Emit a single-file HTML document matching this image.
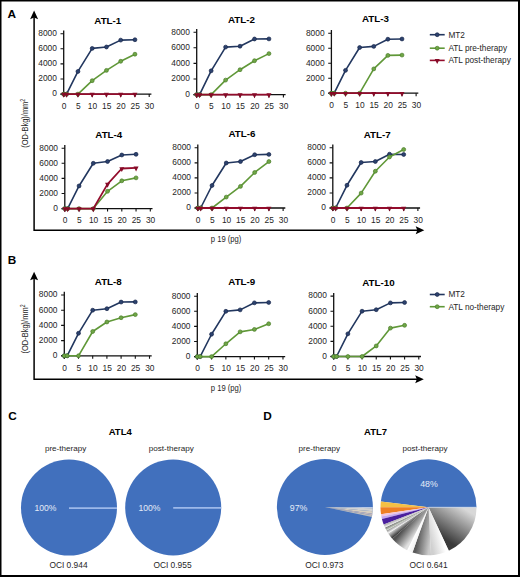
<!DOCTYPE html>
<html><head><meta charset="utf-8"><style>
html,body{margin:0;padding:0;background:#fff;}
svg{display:block;}
</style></head><body>
<svg width="520" height="577" viewBox="0 0 520 577" font-family='"Liberation Sans", sans-serif'>
<rect width="520" height="577" fill="#fff"/>
<text x="7.6" y="17.6" font-weight="bold" font-size="11.8" fill="#000">A</text>
<text x="7.8" y="264.3" font-weight="bold" font-size="11.8" fill="#000">B</text>
<text x="8.2" y="420.2" font-weight="bold" font-size="11.8" fill="#000">C</text>
<text x="263.3" y="420.2" font-weight="bold" font-size="11.8" fill="#000">D</text>
<path d="M34.1 14.6V230.3H420.3" stroke="#000" stroke-width="1.5" fill="none"/><path d="M34.1 10.6L38.1 19.2L34.1 17.6L30.1 19.2Z" fill="#000"/><path d="M424.3 230.3L415.7 226.3L417.3 230.3L415.7 234.3Z" fill="#000"/>
<path d="M34.1 275.7V379.3H419.8" stroke="#000" stroke-width="1.5" fill="none"/><path d="M34.1 271.7L38.1 280.3L34.1 278.7L30.1 280.3Z" fill="#000"/><path d="M423.8 379.3L415.2 375.3L416.8 379.3L415.2 383.3Z" fill="#000"/>
<text transform="translate(28.2 123.3) rotate(-90) scale(0.78 1)" text-anchor="middle" font-size="9.6" fill="#262626">(OD-Bkg)/mm<tspan font-size="6.5" dy="-3.6">2</tspan></text>
<text transform="translate(28.2 329.0) rotate(-90) scale(0.78 1)" text-anchor="middle" font-size="9.6" fill="#262626">(OD-Bkg)/mm<tspan font-size="6.5" dy="-3.6">2</tspan></text>
<text transform="translate(210.8 242.3) scale(0.86 1)" font-size="8.9" fill="#262626">p 19 (pg)</text>
<text transform="translate(210.8 391.0) scale(0.86 1)" font-size="8.9" fill="#262626">p 19 (pg)</text>
<g font-size="8.4" fill="#262626">
<text x="107.8" y="24.2" text-anchor="middle" font-weight="bold" font-size="9.8" fill="#000">ATL-1</text>
<path d="M63.7 30.5V97.1M60.5 94.1H151.4" stroke="#111" stroke-width="1.3" fill="none"/>
<path d="M60.5 94.1H63.7M60.5 79H63.7M60.5 63.9H63.7M60.5 48.8H63.7M60.5 33.7H63.7M63.7 94.1V97.1M77.95 94.1V97.1M92.2 94.1V97.1M106.45 94.1V97.1M120.7 94.1V97.1M134.95 94.1V97.1M149.2 94.1V97.1" stroke="#111" stroke-width="1.1" fill="none"/>
<text x="56.9" y="96.4" text-anchor="end">0</text>
<text x="56.9" y="81.3" text-anchor="end">2000</text>
<text x="56.9" y="66.2" text-anchor="end">4000</text>
<text x="56.9" y="51.1" text-anchor="end">6000</text>
<text x="56.9" y="36" text-anchor="end">8000</text>
<text x="64" y="108.8" text-anchor="middle">0</text>
<text x="78.25" y="108.8" text-anchor="middle">5</text>
<text x="92.5" y="108.8" text-anchor="middle">10</text>
<text x="106.75" y="108.8" text-anchor="middle">15</text>
<text x="121" y="108.8" text-anchor="middle">20</text>
<text x="135.25" y="108.8" text-anchor="middle">25</text>
<text x="149.5" y="108.8" text-anchor="middle">30</text>
<path d="M63.7 94.1L66.55 94.1L77.95 71.45L92.2 48.42L106.45 46.99L120.7 40.12L134.95 39.74" stroke="#22375f" stroke-width="1.6" fill="none" stroke-linejoin="round"/>
<circle cx="63.7" cy="94.1" r="1.95" fill="#2c426e" stroke="#18264a" stroke-width="0.7"/>
<circle cx="66.55" cy="94.1" r="1.95" fill="#2c426e" stroke="#18264a" stroke-width="0.7"/>
<circle cx="77.95" cy="71.45" r="1.95" fill="#2c426e" stroke="#18264a" stroke-width="0.7"/>
<circle cx="92.2" cy="48.42" r="1.95" fill="#2c426e" stroke="#18264a" stroke-width="0.7"/>
<circle cx="106.45" cy="46.99" r="1.95" fill="#2c426e" stroke="#18264a" stroke-width="0.7"/>
<circle cx="120.7" cy="40.12" r="1.95" fill="#2c426e" stroke="#18264a" stroke-width="0.7"/>
<circle cx="134.95" cy="39.74" r="1.95" fill="#2c426e" stroke="#18264a" stroke-width="0.7"/>
<path d="M63.7 94.1L66.55 94.1L77.95 94.1L92.2 80.7L106.45 70.39L120.7 61.3L134.95 54.2" stroke="#609838" stroke-width="1.6" fill="none" stroke-linejoin="round"/>
<circle cx="63.7" cy="94.1" r="1.95" fill="#6fa646" stroke="#4b7d2a" stroke-width="0.7"/>
<circle cx="66.55" cy="94.1" r="1.95" fill="#6fa646" stroke="#4b7d2a" stroke-width="0.7"/>
<circle cx="77.95" cy="94.1" r="1.95" fill="#6fa646" stroke="#4b7d2a" stroke-width="0.7"/>
<circle cx="92.2" cy="80.7" r="1.95" fill="#6fa646" stroke="#4b7d2a" stroke-width="0.7"/>
<circle cx="106.45" cy="70.39" r="1.95" fill="#6fa646" stroke="#4b7d2a" stroke-width="0.7"/>
<circle cx="120.7" cy="61.3" r="1.95" fill="#6fa646" stroke="#4b7d2a" stroke-width="0.7"/>
<circle cx="134.95" cy="54.2" r="1.95" fill="#6fa646" stroke="#4b7d2a" stroke-width="0.7"/>
<path d="M63.7 94.1L66.55 94.1L77.95 94.1L92.2 94.1L106.45 94.1L120.7 94.1L134.95 94.1" stroke="#930c2c" stroke-width="1.8" fill="none" stroke-linejoin="round"/>
<path d="M61.2 92.8L66.2 92.8L63.7 97.7Z" fill="#860a27"/>
<path d="M64.05 92.8L69.05 92.8L66.55 97.7Z" fill="#860a27"/>
<path d="M75.45 92.8L80.45 92.8L77.95 97.7Z" fill="#860a27"/>
<path d="M89.7 92.8L94.7 92.8L92.2 97.7Z" fill="#860a27"/>
<path d="M103.95 92.8L108.95 92.8L106.45 97.7Z" fill="#860a27"/>
<path d="M118.2 92.8L123.2 92.8L120.7 97.7Z" fill="#860a27"/>
<path d="M132.45 92.8L137.45 92.8L134.95 97.7Z" fill="#860a27"/>
<text x="241.4" y="22.7" text-anchor="middle" font-weight="bold" font-size="9.8" fill="#000">ATL-2</text>
<path d="M196.7 29V97.6M193.5 94.6H285.6" stroke="#111" stroke-width="1.3" fill="none"/>
<path d="M193.5 94.6H196.7M193.5 79H196.7M193.5 63.4H196.7M193.5 47.8H196.7M193.5 32.2H196.7M196.7 94.6V97.6M211.15 94.6V97.6M225.6 94.6V97.6M240.05 94.6V97.6M254.5 94.6V97.6M268.95 94.6V97.6M283.4 94.6V97.6" stroke="#111" stroke-width="1.1" fill="none"/>
<text x="189.9" y="96.9" text-anchor="end">0</text>
<text x="189.9" y="81.3" text-anchor="end">2000</text>
<text x="189.9" y="65.7" text-anchor="end">4000</text>
<text x="189.9" y="50.1" text-anchor="end">6000</text>
<text x="189.9" y="34.5" text-anchor="end">8000</text>
<text x="197" y="109.3" text-anchor="middle">0</text>
<text x="211.45" y="109.3" text-anchor="middle">5</text>
<text x="225.9" y="109.3" text-anchor="middle">10</text>
<text x="240.35" y="109.3" text-anchor="middle">15</text>
<text x="254.8" y="109.3" text-anchor="middle">20</text>
<text x="269.25" y="109.3" text-anchor="middle">25</text>
<text x="283.7" y="109.3" text-anchor="middle">30</text>
<path d="M196.7 94.6L199.59 94.6L211.15 70.81L225.6 47.1L240.05 46.2L254.5 38.99L268.95 38.91" stroke="#22375f" stroke-width="1.6" fill="none" stroke-linejoin="round"/>
<circle cx="196.7" cy="94.6" r="1.95" fill="#2c426e" stroke="#18264a" stroke-width="0.7"/>
<circle cx="199.59" cy="94.6" r="1.95" fill="#2c426e" stroke="#18264a" stroke-width="0.7"/>
<circle cx="211.15" cy="70.81" r="1.95" fill="#2c426e" stroke="#18264a" stroke-width="0.7"/>
<circle cx="225.6" cy="47.1" r="1.95" fill="#2c426e" stroke="#18264a" stroke-width="0.7"/>
<circle cx="240.05" cy="46.2" r="1.95" fill="#2c426e" stroke="#18264a" stroke-width="0.7"/>
<circle cx="254.5" cy="38.99" r="1.95" fill="#2c426e" stroke="#18264a" stroke-width="0.7"/>
<circle cx="268.95" cy="38.91" r="1.95" fill="#2c426e" stroke="#18264a" stroke-width="0.7"/>
<path d="M196.7 94.6L199.59 94.6L211.15 94.6L225.6 80.09L240.05 69.72L254.5 60.71L268.95 53.61" stroke="#609838" stroke-width="1.6" fill="none" stroke-linejoin="round"/>
<circle cx="196.7" cy="94.6" r="1.95" fill="#6fa646" stroke="#4b7d2a" stroke-width="0.7"/>
<circle cx="199.59" cy="94.6" r="1.95" fill="#6fa646" stroke="#4b7d2a" stroke-width="0.7"/>
<circle cx="211.15" cy="94.6" r="1.95" fill="#6fa646" stroke="#4b7d2a" stroke-width="0.7"/>
<circle cx="225.6" cy="80.09" r="1.95" fill="#6fa646" stroke="#4b7d2a" stroke-width="0.7"/>
<circle cx="240.05" cy="69.72" r="1.95" fill="#6fa646" stroke="#4b7d2a" stroke-width="0.7"/>
<circle cx="254.5" cy="60.71" r="1.95" fill="#6fa646" stroke="#4b7d2a" stroke-width="0.7"/>
<circle cx="268.95" cy="53.61" r="1.95" fill="#6fa646" stroke="#4b7d2a" stroke-width="0.7"/>
<path d="M196.7 94.6L199.59 94.6L211.15 94.6L225.6 94.6L240.05 94.6L254.5 94.6L268.95 94.6" stroke="#930c2c" stroke-width="1.8" fill="none" stroke-linejoin="round"/>
<path d="M194.2 93.3L199.2 93.3L196.7 98.2Z" fill="#860a27"/>
<path d="M197.09 93.3L202.09 93.3L199.59 98.2Z" fill="#860a27"/>
<path d="M208.65 93.3L213.65 93.3L211.15 98.2Z" fill="#860a27"/>
<path d="M223.1 93.3L228.1 93.3L225.6 98.2Z" fill="#860a27"/>
<path d="M237.55 93.3L242.55 93.3L240.05 98.2Z" fill="#860a27"/>
<path d="M252 93.3L257 93.3L254.5 98.2Z" fill="#860a27"/>
<path d="M266.45 93.3L271.45 93.3L268.95 98.2Z" fill="#860a27"/>
<text x="375.4" y="22.4" text-anchor="middle" font-weight="bold" font-size="9.8" fill="#000">ATL-3</text>
<path d="M331.4 30V96.2M328.2 93.2H418.32" stroke="#111" stroke-width="1.3" fill="none"/>
<path d="M328.2 93.2H331.4M328.2 78.2H331.4M328.2 63.2H331.4M328.2 48.2H331.4M328.2 33.2H331.4M331.4 93.2V96.2M345.52 93.2V96.2M359.64 93.2V96.2M373.76 93.2V96.2M387.88 93.2V96.2M402 93.2V96.2M416.12 93.2V96.2" stroke="#111" stroke-width="1.1" fill="none"/>
<text x="324.6" y="95.5" text-anchor="end">0</text>
<text x="324.6" y="80.5" text-anchor="end">2000</text>
<text x="324.6" y="65.5" text-anchor="end">4000</text>
<text x="324.6" y="50.5" text-anchor="end">6000</text>
<text x="324.6" y="35.5" text-anchor="end">8000</text>
<text x="331.7" y="107.9" text-anchor="middle">0</text>
<text x="345.82" y="107.9" text-anchor="middle">5</text>
<text x="359.94" y="107.9" text-anchor="middle">10</text>
<text x="374.06" y="107.9" text-anchor="middle">15</text>
<text x="388.18" y="107.9" text-anchor="middle">20</text>
<text x="402.3" y="107.9" text-anchor="middle">25</text>
<text x="416.42" y="107.9" text-anchor="middle">30</text>
<path d="M331.4 93.2L334.22 93.2L345.52 70.33L359.64 47.53L373.76 46.4L387.88 39.2L402 38.98" stroke="#22375f" stroke-width="1.6" fill="none" stroke-linejoin="round"/>
<circle cx="331.4" cy="93.2" r="1.95" fill="#2c426e" stroke="#18264a" stroke-width="0.7"/>
<circle cx="334.22" cy="93.2" r="1.95" fill="#2c426e" stroke="#18264a" stroke-width="0.7"/>
<circle cx="345.52" cy="70.33" r="1.95" fill="#2c426e" stroke="#18264a" stroke-width="0.7"/>
<circle cx="359.64" cy="47.53" r="1.95" fill="#2c426e" stroke="#18264a" stroke-width="0.7"/>
<circle cx="373.76" cy="46.4" r="1.95" fill="#2c426e" stroke="#18264a" stroke-width="0.7"/>
<circle cx="387.88" cy="39.2" r="1.95" fill="#2c426e" stroke="#18264a" stroke-width="0.7"/>
<circle cx="402" cy="38.98" r="1.95" fill="#2c426e" stroke="#18264a" stroke-width="0.7"/>
<path d="M331.4 93.2L334.22 93.2L345.52 93.2L359.64 93.2L373.76 68.9L387.88 55.4L402 55.1" stroke="#609838" stroke-width="1.6" fill="none" stroke-linejoin="round"/>
<circle cx="331.4" cy="93.2" r="1.95" fill="#6fa646" stroke="#4b7d2a" stroke-width="0.7"/>
<circle cx="334.22" cy="93.2" r="1.95" fill="#6fa646" stroke="#4b7d2a" stroke-width="0.7"/>
<circle cx="345.52" cy="93.2" r="1.95" fill="#6fa646" stroke="#4b7d2a" stroke-width="0.7"/>
<circle cx="359.64" cy="93.2" r="1.95" fill="#6fa646" stroke="#4b7d2a" stroke-width="0.7"/>
<circle cx="373.76" cy="68.9" r="1.95" fill="#6fa646" stroke="#4b7d2a" stroke-width="0.7"/>
<circle cx="387.88" cy="55.4" r="1.95" fill="#6fa646" stroke="#4b7d2a" stroke-width="0.7"/>
<circle cx="402" cy="55.1" r="1.95" fill="#6fa646" stroke="#4b7d2a" stroke-width="0.7"/>
<path d="M331.4 93.2L334.22 93.2L345.52 93.2L359.64 93.2L373.76 93.2L387.88 93.2L402 93.2" stroke="#930c2c" stroke-width="1.8" fill="none" stroke-linejoin="round"/>
<path d="M328.9 91.9L333.9 91.9L331.4 96.8Z" fill="#860a27"/>
<path d="M331.72 91.9L336.72 91.9L334.22 96.8Z" fill="#860a27"/>
<path d="M343.02 91.9L348.02 91.9L345.52 96.8Z" fill="#860a27"/>
<path d="M357.14 91.9L362.14 91.9L359.64 96.8Z" fill="#860a27"/>
<path d="M371.26 91.9L376.26 91.9L373.76 96.8Z" fill="#860a27"/>
<path d="M385.38 91.9L390.38 91.9L387.88 96.8Z" fill="#860a27"/>
<path d="M399.5 91.9L404.5 91.9L402 96.8Z" fill="#860a27"/>
<text x="108.8" y="137.7" text-anchor="middle" font-weight="bold" font-size="9.8" fill="#000">ATL-4</text>
<path d="M64.8 145V211.6M61.6 208.6H152.5" stroke="#111" stroke-width="1.3" fill="none"/>
<path d="M61.6 208.6H64.8M61.6 193.5H64.8M61.6 178.4H64.8M61.6 163.3H64.8M61.6 148.2H64.8M64.8 208.6V211.6M79.05 208.6V211.6M93.3 208.6V211.6M107.55 208.6V211.6M121.8 208.6V211.6M136.05 208.6V211.6M150.3 208.6V211.6" stroke="#111" stroke-width="1.1" fill="none"/>
<text x="58" y="210.9" text-anchor="end">0</text>
<text x="58" y="195.8" text-anchor="end">2000</text>
<text x="58" y="180.7" text-anchor="end">4000</text>
<text x="58" y="165.6" text-anchor="end">6000</text>
<text x="58" y="150.5" text-anchor="end">8000</text>
<text x="65.1" y="223.3" text-anchor="middle">0</text>
<text x="79.35" y="223.3" text-anchor="middle">5</text>
<text x="93.6" y="223.3" text-anchor="middle">10</text>
<text x="107.85" y="223.3" text-anchor="middle">15</text>
<text x="122.1" y="223.3" text-anchor="middle">20</text>
<text x="136.35" y="223.3" text-anchor="middle">25</text>
<text x="150.6" y="223.3" text-anchor="middle">30</text>
<path d="M64.8 208.6L67.65 208.6L79.05 185.95L93.3 163.3L107.55 161.49L121.8 155L136.05 154.32" stroke="#22375f" stroke-width="1.6" fill="none" stroke-linejoin="round"/>
<circle cx="64.8" cy="208.6" r="1.95" fill="#2c426e" stroke="#18264a" stroke-width="0.7"/>
<circle cx="67.65" cy="208.6" r="1.95" fill="#2c426e" stroke="#18264a" stroke-width="0.7"/>
<circle cx="79.05" cy="185.95" r="1.95" fill="#2c426e" stroke="#18264a" stroke-width="0.7"/>
<circle cx="93.3" cy="163.3" r="1.95" fill="#2c426e" stroke="#18264a" stroke-width="0.7"/>
<circle cx="107.55" cy="161.49" r="1.95" fill="#2c426e" stroke="#18264a" stroke-width="0.7"/>
<circle cx="121.8" cy="155" r="1.95" fill="#2c426e" stroke="#18264a" stroke-width="0.7"/>
<circle cx="136.05" cy="154.32" r="1.95" fill="#2c426e" stroke="#18264a" stroke-width="0.7"/>
<path d="M64.8 208.6L67.65 208.6L79.05 208.6L93.3 208.6L107.55 191.31L121.8 180.82L136.05 177.87" stroke="#609838" stroke-width="1.6" fill="none" stroke-linejoin="round"/>
<circle cx="64.8" cy="208.6" r="1.95" fill="#6fa646" stroke="#4b7d2a" stroke-width="0.7"/>
<circle cx="67.65" cy="208.6" r="1.95" fill="#6fa646" stroke="#4b7d2a" stroke-width="0.7"/>
<circle cx="79.05" cy="208.6" r="1.95" fill="#6fa646" stroke="#4b7d2a" stroke-width="0.7"/>
<circle cx="93.3" cy="208.6" r="1.95" fill="#6fa646" stroke="#4b7d2a" stroke-width="0.7"/>
<circle cx="107.55" cy="191.31" r="1.95" fill="#6fa646" stroke="#4b7d2a" stroke-width="0.7"/>
<circle cx="121.8" cy="180.82" r="1.95" fill="#6fa646" stroke="#4b7d2a" stroke-width="0.7"/>
<circle cx="136.05" cy="177.87" r="1.95" fill="#6fa646" stroke="#4b7d2a" stroke-width="0.7"/>
<path d="M64.8 208.6L67.65 208.6L79.05 208.6L93.3 208.6L107.55 184.1L121.8 168.51L136.05 167.83" stroke="#930c2c" stroke-width="1.8" fill="none" stroke-linejoin="round"/>
<path d="M62.3 207.3L67.3 207.3L64.8 212.2Z" fill="#860a27"/>
<path d="M65.15 207.3L70.15 207.3L67.65 212.2Z" fill="#860a27"/>
<path d="M76.55 207.3L81.55 207.3L79.05 212.2Z" fill="#860a27"/>
<path d="M90.8 207.3L95.8 207.3L93.3 212.2Z" fill="#860a27"/>
<path d="M105.05 182.8L110.05 182.8L107.55 187.7Z" fill="#860a27"/>
<path d="M119.3 167.21L124.3 167.21L121.8 172.11Z" fill="#860a27"/>
<path d="M133.55 166.53L138.55 166.53L136.05 171.43Z" fill="#860a27"/>
<text x="242" y="136.9" text-anchor="middle" font-weight="bold" font-size="9.8" fill="#000">ATL-6</text>
<path d="M197.8 144.6V211M194.6 208H285.32" stroke="#111" stroke-width="1.3" fill="none"/>
<path d="M194.6 208H197.8M194.6 192.95H197.8M194.6 177.9H197.8M194.6 162.85H197.8M194.6 147.8H197.8M197.8 208V211M212.02 208V211M226.24 208V211M240.46 208V211M254.68 208V211M268.9 208V211M283.12 208V211" stroke="#111" stroke-width="1.1" fill="none"/>
<text x="191" y="210.3" text-anchor="end">0</text>
<text x="191" y="195.25" text-anchor="end">2000</text>
<text x="191" y="180.2" text-anchor="end">4000</text>
<text x="191" y="165.15" text-anchor="end">6000</text>
<text x="191" y="150.1" text-anchor="end">8000</text>
<text x="198.1" y="222.7" text-anchor="middle">0</text>
<text x="212.32" y="222.7" text-anchor="middle">5</text>
<text x="226.54" y="222.7" text-anchor="middle">10</text>
<text x="240.76" y="222.7" text-anchor="middle">15</text>
<text x="254.98" y="222.7" text-anchor="middle">20</text>
<text x="269.2" y="222.7" text-anchor="middle">25</text>
<text x="283.42" y="222.7" text-anchor="middle">30</text>
<path d="M197.8 208L200.64 208L212.02 185.5L226.24 163L240.46 161.57L254.68 154.72L268.9 154.42" stroke="#22375f" stroke-width="1.6" fill="none" stroke-linejoin="round"/>
<circle cx="197.8" cy="208" r="1.95" fill="#2c426e" stroke="#18264a" stroke-width="0.7"/>
<circle cx="200.64" cy="208" r="1.95" fill="#2c426e" stroke="#18264a" stroke-width="0.7"/>
<circle cx="212.02" cy="185.5" r="1.95" fill="#2c426e" stroke="#18264a" stroke-width="0.7"/>
<circle cx="226.24" cy="163" r="1.95" fill="#2c426e" stroke="#18264a" stroke-width="0.7"/>
<circle cx="240.46" cy="161.57" r="1.95" fill="#2c426e" stroke="#18264a" stroke-width="0.7"/>
<circle cx="254.68" cy="154.72" r="1.95" fill="#2c426e" stroke="#18264a" stroke-width="0.7"/>
<circle cx="268.9" cy="154.42" r="1.95" fill="#2c426e" stroke="#18264a" stroke-width="0.7"/>
<path d="M197.8 208L200.64 208L212.02 208L226.24 197.09L240.46 186.4L254.68 172.48L268.9 161.57" stroke="#609838" stroke-width="1.6" fill="none" stroke-linejoin="round"/>
<circle cx="197.8" cy="208" r="1.95" fill="#6fa646" stroke="#4b7d2a" stroke-width="0.7"/>
<circle cx="200.64" cy="208" r="1.95" fill="#6fa646" stroke="#4b7d2a" stroke-width="0.7"/>
<circle cx="212.02" cy="208" r="1.95" fill="#6fa646" stroke="#4b7d2a" stroke-width="0.7"/>
<circle cx="226.24" cy="197.09" r="1.95" fill="#6fa646" stroke="#4b7d2a" stroke-width="0.7"/>
<circle cx="240.46" cy="186.4" r="1.95" fill="#6fa646" stroke="#4b7d2a" stroke-width="0.7"/>
<circle cx="254.68" cy="172.48" r="1.95" fill="#6fa646" stroke="#4b7d2a" stroke-width="0.7"/>
<circle cx="268.9" cy="161.57" r="1.95" fill="#6fa646" stroke="#4b7d2a" stroke-width="0.7"/>
<path d="M197.8 208L200.64 208L212.02 208L226.24 208L240.46 208L254.68 208L268.9 208" stroke="#930c2c" stroke-width="1.8" fill="none" stroke-linejoin="round"/>
<path d="M195.3 206.7L200.3 206.7L197.8 211.6Z" fill="#860a27"/>
<path d="M198.14 206.7L203.14 206.7L200.64 211.6Z" fill="#860a27"/>
<path d="M209.52 206.7L214.52 206.7L212.02 211.6Z" fill="#860a27"/>
<path d="M223.74 206.7L228.74 206.7L226.24 211.6Z" fill="#860a27"/>
<path d="M237.96 206.7L242.96 206.7L240.46 211.6Z" fill="#860a27"/>
<path d="M252.18 206.7L257.18 206.7L254.68 211.6Z" fill="#860a27"/>
<path d="M266.4 206.7L271.4 206.7L268.9 211.6Z" fill="#860a27"/>
<text x="377.2" y="137.5" text-anchor="middle" font-weight="bold" font-size="9.8" fill="#000">ATL-7</text>
<path d="M332.8 144.6V211M329.6 208H420.08" stroke="#111" stroke-width="1.3" fill="none"/>
<path d="M329.6 208H332.8M329.6 192.95H332.8M329.6 177.9H332.8M329.6 162.85H332.8M329.6 147.8H332.8M332.8 208V211M346.98 208V211M361.16 208V211M375.34 208V211M389.52 208V211M403.7 208V211M417.88 208V211" stroke="#111" stroke-width="1.1" fill="none"/>
<text x="326" y="210.3" text-anchor="end">0</text>
<text x="326" y="195.25" text-anchor="end">2000</text>
<text x="326" y="180.2" text-anchor="end">4000</text>
<text x="326" y="165.15" text-anchor="end">6000</text>
<text x="326" y="150.1" text-anchor="end">8000</text>
<text x="333.1" y="222.7" text-anchor="middle">0</text>
<text x="347.28" y="222.7" text-anchor="middle">5</text>
<text x="361.46" y="222.7" text-anchor="middle">10</text>
<text x="375.64" y="222.7" text-anchor="middle">15</text>
<text x="389.82" y="222.7" text-anchor="middle">20</text>
<text x="404" y="222.7" text-anchor="middle">25</text>
<text x="418.18" y="222.7" text-anchor="middle">30</text>
<path d="M332.8 208L335.64 208L346.98 185.27L361.16 162.47L375.34 161.5L389.52 154.2L403.7 154.5" stroke="#22375f" stroke-width="1.6" fill="none" stroke-linejoin="round"/>
<circle cx="332.8" cy="208" r="1.95" fill="#2c426e" stroke="#18264a" stroke-width="0.7"/>
<circle cx="335.64" cy="208" r="1.95" fill="#2c426e" stroke="#18264a" stroke-width="0.7"/>
<circle cx="346.98" cy="185.27" r="1.95" fill="#2c426e" stroke="#18264a" stroke-width="0.7"/>
<circle cx="361.16" cy="162.47" r="1.95" fill="#2c426e" stroke="#18264a" stroke-width="0.7"/>
<circle cx="375.34" cy="161.5" r="1.95" fill="#2c426e" stroke="#18264a" stroke-width="0.7"/>
<circle cx="389.52" cy="154.2" r="1.95" fill="#2c426e" stroke="#18264a" stroke-width="0.7"/>
<circle cx="403.7" cy="154.5" r="1.95" fill="#2c426e" stroke="#18264a" stroke-width="0.7"/>
<path d="M332.8 208L335.64 208L346.98 208L361.16 193.1L375.34 171.2L389.52 156.98L403.7 149.49" stroke="#609838" stroke-width="1.6" fill="none" stroke-linejoin="round"/>
<circle cx="332.8" cy="208" r="1.95" fill="#6fa646" stroke="#4b7d2a" stroke-width="0.7"/>
<circle cx="335.64" cy="208" r="1.95" fill="#6fa646" stroke="#4b7d2a" stroke-width="0.7"/>
<circle cx="346.98" cy="208" r="1.95" fill="#6fa646" stroke="#4b7d2a" stroke-width="0.7"/>
<circle cx="361.16" cy="193.1" r="1.95" fill="#6fa646" stroke="#4b7d2a" stroke-width="0.7"/>
<circle cx="375.34" cy="171.2" r="1.95" fill="#6fa646" stroke="#4b7d2a" stroke-width="0.7"/>
<circle cx="389.52" cy="156.98" r="1.95" fill="#6fa646" stroke="#4b7d2a" stroke-width="0.7"/>
<circle cx="403.7" cy="149.49" r="1.95" fill="#6fa646" stroke="#4b7d2a" stroke-width="0.7"/>
<path d="M332.8 208L335.64 208L346.98 208L361.16 208L375.34 208L389.52 208L403.7 208" stroke="#930c2c" stroke-width="1.8" fill="none" stroke-linejoin="round"/>
<path d="M330.3 206.7L335.3 206.7L332.8 211.6Z" fill="#860a27"/>
<path d="M333.14 206.7L338.14 206.7L335.64 211.6Z" fill="#860a27"/>
<path d="M344.48 206.7L349.48 206.7L346.98 211.6Z" fill="#860a27"/>
<path d="M358.66 206.7L363.66 206.7L361.16 211.6Z" fill="#860a27"/>
<path d="M372.84 206.7L377.84 206.7L375.34 211.6Z" fill="#860a27"/>
<path d="M387.02 206.7L392.02 206.7L389.52 211.6Z" fill="#860a27"/>
<path d="M401.2 206.7L406.2 206.7L403.7 211.6Z" fill="#860a27"/>
<text x="108.3" y="285" text-anchor="middle" font-weight="bold" font-size="9.8" fill="#000">ATL-8</text>
<path d="M64.3 291.8V358.8M61.1 355.8H151.7" stroke="#111" stroke-width="1.3" fill="none"/>
<path d="M61.1 355.8H64.3M61.1 340.6H64.3M61.1 325.4H64.3M61.1 310.2H64.3M61.1 295H64.3M64.3 355.8V358.8M78.5 355.8V358.8M92.7 355.8V358.8M106.9 355.8V358.8M121.1 355.8V358.8M135.3 355.8V358.8M149.5 355.8V358.8" stroke="#111" stroke-width="1.1" fill="none"/>
<text x="57.5" y="358.1" text-anchor="end">0</text>
<text x="57.5" y="342.9" text-anchor="end">2000</text>
<text x="57.5" y="327.7" text-anchor="end">4000</text>
<text x="57.5" y="312.5" text-anchor="end">6000</text>
<text x="57.5" y="297.3" text-anchor="end">8000</text>
<text x="64.6" y="370.5" text-anchor="middle">0</text>
<text x="78.8" y="370.5" text-anchor="middle">5</text>
<text x="93" y="370.5" text-anchor="middle">10</text>
<text x="107.2" y="370.5" text-anchor="middle">15</text>
<text x="121.4" y="370.5" text-anchor="middle">20</text>
<text x="135.6" y="370.5" text-anchor="middle">25</text>
<text x="149.8" y="370.5" text-anchor="middle">30</text>
<path d="M64.3 355.8L67.14 355.8L78.5 333.3L92.7 310.2L106.9 308.68L121.1 302.07L135.3 301.92" stroke="#22375f" stroke-width="1.6" fill="none" stroke-linejoin="round"/>
<circle cx="64.3" cy="355.8" r="1.95" fill="#2c426e" stroke="#18264a" stroke-width="0.7"/>
<circle cx="67.14" cy="355.8" r="1.95" fill="#2c426e" stroke="#18264a" stroke-width="0.7"/>
<circle cx="78.5" cy="333.3" r="1.95" fill="#2c426e" stroke="#18264a" stroke-width="0.7"/>
<circle cx="92.7" cy="310.2" r="1.95" fill="#2c426e" stroke="#18264a" stroke-width="0.7"/>
<circle cx="106.9" cy="308.68" r="1.95" fill="#2c426e" stroke="#18264a" stroke-width="0.7"/>
<circle cx="121.1" cy="302.07" r="1.95" fill="#2c426e" stroke="#18264a" stroke-width="0.7"/>
<circle cx="135.3" cy="301.92" r="1.95" fill="#2c426e" stroke="#18264a" stroke-width="0.7"/>
<path d="M64.3 355.8L67.14 355.8L78.5 355.8L92.7 331.48L106.9 321.98L121.1 317.72L135.3 314.61" stroke="#609838" stroke-width="1.6" fill="none" stroke-linejoin="round"/>
<circle cx="64.3" cy="355.8" r="1.95" fill="#6fa646" stroke="#4b7d2a" stroke-width="0.7"/>
<circle cx="67.14" cy="355.8" r="1.95" fill="#6fa646" stroke="#4b7d2a" stroke-width="0.7"/>
<circle cx="78.5" cy="355.8" r="1.95" fill="#6fa646" stroke="#4b7d2a" stroke-width="0.7"/>
<circle cx="92.7" cy="331.48" r="1.95" fill="#6fa646" stroke="#4b7d2a" stroke-width="0.7"/>
<circle cx="106.9" cy="321.98" r="1.95" fill="#6fa646" stroke="#4b7d2a" stroke-width="0.7"/>
<circle cx="121.1" cy="317.72" r="1.95" fill="#6fa646" stroke="#4b7d2a" stroke-width="0.7"/>
<circle cx="135.3" cy="314.61" r="1.95" fill="#6fa646" stroke="#4b7d2a" stroke-width="0.7"/>
<text x="241.8" y="285" text-anchor="middle" font-weight="bold" font-size="9.8" fill="#000">ATL-9</text>
<path d="M197.3 293V359.6M194.1 356.6H285.18" stroke="#111" stroke-width="1.3" fill="none"/>
<path d="M194.1 356.6H197.3M194.1 341.5H197.3M194.1 326.4H197.3M194.1 311.3H197.3M194.1 296.2H197.3M197.3 356.6V359.6M211.58 356.6V359.6M225.86 356.6V359.6M240.14 356.6V359.6M254.42 356.6V359.6M268.7 356.6V359.6M282.98 356.6V359.6" stroke="#111" stroke-width="1.1" fill="none"/>
<text x="190.5" y="358.9" text-anchor="end">0</text>
<text x="190.5" y="343.8" text-anchor="end">2000</text>
<text x="190.5" y="328.7" text-anchor="end">4000</text>
<text x="190.5" y="313.6" text-anchor="end">6000</text>
<text x="190.5" y="298.5" text-anchor="end">8000</text>
<text x="197.6" y="371.3" text-anchor="middle">0</text>
<text x="211.88" y="371.3" text-anchor="middle">5</text>
<text x="226.16" y="371.3" text-anchor="middle">10</text>
<text x="240.44" y="371.3" text-anchor="middle">15</text>
<text x="254.72" y="371.3" text-anchor="middle">20</text>
<text x="269" y="371.3" text-anchor="middle">25</text>
<text x="283.28" y="371.3" text-anchor="middle">30</text>
<path d="M197.3 356.6L200.16 356.6L211.58 334.25L225.86 311.3L240.14 309.87L254.42 302.84L268.7 302.47" stroke="#22375f" stroke-width="1.6" fill="none" stroke-linejoin="round"/>
<circle cx="197.3" cy="356.6" r="1.95" fill="#2c426e" stroke="#18264a" stroke-width="0.7"/>
<circle cx="200.16" cy="356.6" r="1.95" fill="#2c426e" stroke="#18264a" stroke-width="0.7"/>
<circle cx="211.58" cy="334.25" r="1.95" fill="#2c426e" stroke="#18264a" stroke-width="0.7"/>
<circle cx="225.86" cy="311.3" r="1.95" fill="#2c426e" stroke="#18264a" stroke-width="0.7"/>
<circle cx="240.14" cy="309.87" r="1.95" fill="#2c426e" stroke="#18264a" stroke-width="0.7"/>
<circle cx="254.42" cy="302.84" r="1.95" fill="#2c426e" stroke="#18264a" stroke-width="0.7"/>
<circle cx="268.7" cy="302.47" r="1.95" fill="#2c426e" stroke="#18264a" stroke-width="0.7"/>
<path d="M197.3 356.6L200.16 356.6L211.58 356.6L225.86 343.77L240.14 331.84L254.42 329.42L268.7 323.76" stroke="#609838" stroke-width="1.6" fill="none" stroke-linejoin="round"/>
<circle cx="197.3" cy="356.6" r="1.95" fill="#6fa646" stroke="#4b7d2a" stroke-width="0.7"/>
<circle cx="200.16" cy="356.6" r="1.95" fill="#6fa646" stroke="#4b7d2a" stroke-width="0.7"/>
<circle cx="211.58" cy="356.6" r="1.95" fill="#6fa646" stroke="#4b7d2a" stroke-width="0.7"/>
<circle cx="225.86" cy="343.77" r="1.95" fill="#6fa646" stroke="#4b7d2a" stroke-width="0.7"/>
<circle cx="240.14" cy="331.84" r="1.95" fill="#6fa646" stroke="#4b7d2a" stroke-width="0.7"/>
<circle cx="254.42" cy="329.42" r="1.95" fill="#6fa646" stroke="#4b7d2a" stroke-width="0.7"/>
<circle cx="268.7" cy="323.76" r="1.95" fill="#6fa646" stroke="#4b7d2a" stroke-width="0.7"/>
<text x="378.5" y="285.5" text-anchor="middle" font-weight="bold" font-size="9.8" fill="#000">ATL-10</text>
<path d="M333.7 292.9V359.5M330.5 356.5H420.98" stroke="#111" stroke-width="1.3" fill="none"/>
<path d="M330.5 356.5H333.7M330.5 341.4H333.7M330.5 326.3H333.7M330.5 311.2H333.7M330.5 296.1H333.7M333.7 356.5V359.5M347.88 356.5V359.5M362.06 356.5V359.5M376.24 356.5V359.5M390.42 356.5V359.5M404.6 356.5V359.5M418.78 356.5V359.5" stroke="#111" stroke-width="1.1" fill="none"/>
<text x="326.9" y="358.8" text-anchor="end">0</text>
<text x="326.9" y="343.7" text-anchor="end">2000</text>
<text x="326.9" y="328.6" text-anchor="end">4000</text>
<text x="326.9" y="313.5" text-anchor="end">6000</text>
<text x="326.9" y="298.4" text-anchor="end">8000</text>
<text x="334" y="371.2" text-anchor="middle">0</text>
<text x="348.18" y="371.2" text-anchor="middle">5</text>
<text x="362.36" y="371.2" text-anchor="middle">10</text>
<text x="376.54" y="371.2" text-anchor="middle">15</text>
<text x="390.72" y="371.2" text-anchor="middle">20</text>
<text x="404.9" y="371.2" text-anchor="middle">25</text>
<text x="419.08" y="371.2" text-anchor="middle">30</text>
<path d="M333.7 356.5L336.54 356.5L347.88 333.85L362.06 311.2L376.24 309.69L390.42 302.89L404.6 302.52" stroke="#22375f" stroke-width="1.6" fill="none" stroke-linejoin="round"/>
<circle cx="333.7" cy="356.5" r="1.95" fill="#2c426e" stroke="#18264a" stroke-width="0.7"/>
<circle cx="336.54" cy="356.5" r="1.95" fill="#2c426e" stroke="#18264a" stroke-width="0.7"/>
<circle cx="347.88" cy="333.85" r="1.95" fill="#2c426e" stroke="#18264a" stroke-width="0.7"/>
<circle cx="362.06" cy="311.2" r="1.95" fill="#2c426e" stroke="#18264a" stroke-width="0.7"/>
<circle cx="376.24" cy="309.69" r="1.95" fill="#2c426e" stroke="#18264a" stroke-width="0.7"/>
<circle cx="390.42" cy="302.89" r="1.95" fill="#2c426e" stroke="#18264a" stroke-width="0.7"/>
<circle cx="404.6" cy="302.52" r="1.95" fill="#2c426e" stroke="#18264a" stroke-width="0.7"/>
<path d="M333.7 356.5L336.54 356.5L347.88 356.5L362.06 356.5L376.24 345.93L390.42 328.11L404.6 325.32" stroke="#609838" stroke-width="1.6" fill="none" stroke-linejoin="round"/>
<circle cx="333.7" cy="356.5" r="1.95" fill="#6fa646" stroke="#4b7d2a" stroke-width="0.7"/>
<circle cx="336.54" cy="356.5" r="1.95" fill="#6fa646" stroke="#4b7d2a" stroke-width="0.7"/>
<circle cx="347.88" cy="356.5" r="1.95" fill="#6fa646" stroke="#4b7d2a" stroke-width="0.7"/>
<circle cx="362.06" cy="356.5" r="1.95" fill="#6fa646" stroke="#4b7d2a" stroke-width="0.7"/>
<circle cx="376.24" cy="345.93" r="1.95" fill="#6fa646" stroke="#4b7d2a" stroke-width="0.7"/>
<circle cx="390.42" cy="328.11" r="1.95" fill="#6fa646" stroke="#4b7d2a" stroke-width="0.7"/>
<circle cx="404.6" cy="325.32" r="1.95" fill="#6fa646" stroke="#4b7d2a" stroke-width="0.7"/>
</g>
<path d="M429.8 34.7H444.7" stroke="#22375f" stroke-width="1.6"/>
<circle cx="437.2" cy="34.7" r="1.95" fill="#2c426e" stroke="#18264a" stroke-width="0.7"/>
<text x="448.4" y="37.6" font-size="8.25" fill="#262626">MT2</text>
<path d="M429.8 48.2H444.7" stroke="#609838" stroke-width="1.6"/>
<circle cx="437.2" cy="48.2" r="1.95" fill="#6fa646" stroke="#4b7d2a" stroke-width="0.7"/>
<text x="448.4" y="51.1" font-size="8.25" fill="#262626">ATL pre-therapy</text>
<path d="M429.8 60.4H444.7" stroke="#930c2c" stroke-width="1.6"/>
<path d="M434.7 59.1L439.7 59.1L437.2 64Z" fill="#860a27"/>
<text x="448.4" y="63.3" font-size="8.25" fill="#262626">ATL post-therapy</text>
<path d="M429.8 294.5H444.7" stroke="#22375f" stroke-width="1.6"/>
<circle cx="437.2" cy="294.5" r="1.95" fill="#2c426e" stroke="#18264a" stroke-width="0.7"/>
<text x="448.4" y="297.4" font-size="8.25" fill="#262626">MT2</text>
<path d="M429.8 306.7H444.7" stroke="#609838" stroke-width="1.6"/>
<circle cx="437.2" cy="306.7" r="1.95" fill="#6fa646" stroke="#4b7d2a" stroke-width="0.7"/>
<text x="448.4" y="309.6" font-size="8.25" fill="#262626">ATL no-therapy</text>
<circle cx="69" cy="507.6" r="48" fill="#4170bd"/>
<path d="M69 508.1H117" stroke="#9cb8ea" stroke-width="1.8"/>
<text x="45.4" y="510.9" text-anchor="middle" font-size="8.6" fill="#e4ebf7">100%</text>
<circle cx="173.2" cy="507.4" r="48" fill="#4170bd"/>
<path d="M173.2 507.9H221.2" stroke="#9cb8ea" stroke-width="1.8"/>
<text x="149.5" y="510.7" text-anchor="middle" font-size="8.6" fill="#e4ebf7">100%</text>
<circle cx="324.9" cy="507.0" r="48" fill="#4170bd"/>
<path d="M324.9 507L372.9 507A48 48 0 0 1 372.88 508.26Z" fill="#b8c8e4"/>
<path d="M324.9 507L372.88 508.26A48 48 0 0 1 372.72 511.18Z" fill="#d2d2d2"/>
<path d="M324.9 507L372.72 511.18A48 48 0 0 1 372.43 513.68Z" fill="#d8cfc0"/>
<path d="M324.9 507L372.43 513.68A48 48 0 0 1 372.17 515.34Z" fill="#c8b8b8"/>
<path d="M324.9 507L372.17 515.34A48 48 0 0 1 371.85 516.98Z" fill="#bcbcbc"/>
<text x="298.6" y="510.8" text-anchor="middle" font-size="8.8" fill="#e4ebf7">97%</text>
<path d="M428.5 507.3L380.86 501.45A48 48 0 0 1 476.5 507.3Z" fill="#4170bd"/>
<path d="M428.5 507.3L380.5 507.3A48 48 0 0 1 380.86 501.45Z" fill="#f4c045"/>
<path d="M428.5 507.3L381.01 514.31A48 48 0 0 1 380.5 507.3Z" fill="#ee7f24"/>
<path d="M428.5 507.3L381.38 516.46A48 48 0 0 1 381.01 514.31Z" fill="#f2c6dc"/>
<path d="M428.5 507.3L381.93 518.91A48 48 0 0 1 381.38 516.46Z" fill="#c4a8f0"/>
<path d="M428.5 507.3L383.69 524.5A48 48 0 0 1 381.93 518.91Z" fill="#4b209e"/>
<path d="M428.5 507.3L476.5 507.3A48 48 0 0 1 448.79 550.8Z" fill="url(#g0)"/>
<path d="M428.5 507.3L448.79 550.8A48 48 0 0 1 431.01 555.23Z" fill="url(#g1)"/>
<path d="M428.5 507.3L431.01 555.23A48 48 0 0 1 412.48 552.55Z" fill="url(#g2)"/>
<path d="M428.5 507.3L412.48 552.55A48 48 0 0 1 407.08 550.26Z" fill="url(#g3)"/>
<path d="M428.5 507.3L407.08 550.26A48 48 0 0 1 392.27 538.79Z" fill="url(#g4)"/>
<path d="M428.5 507.3L392.27 538.79A48 48 0 0 1 388.24 533.44Z" fill="url(#g5)"/>
<path d="M428.5 507.3L388.24 533.44A48 48 0 0 1 386.52 530.57Z" fill="url(#g6)"/>
<path d="M428.5 507.3L386.52 530.57A48 48 0 0 1 385 527.59Z" fill="url(#g7)"/>
<path d="M428.5 507.3L385 527.59A48 48 0 0 1 383.69 524.5Z" fill="url(#g8)"/>
<path d="M428.5 507.3H476.5" stroke="#c8d4ea" stroke-width="0.8"/>
<text x="429" y="487" text-anchor="middle" font-size="8.8" fill="#e4ebf7">48%</text>
<defs><linearGradient id="g0" gradientUnits="userSpaceOnUse" x1="462.1" y1="507.3" x2="442.7" y2="537.75"><stop offset="0" stop-color="#d8d8d8"/><stop offset="1" stop-color="#3a3a3a"/></linearGradient><linearGradient id="g1" gradientUnits="userSpaceOnUse" x1="442.7" y1="537.75" x2="430.26" y2="540.85"><stop offset="0" stop-color="#ffffff"/><stop offset="1" stop-color="#d0d0d0"/></linearGradient><linearGradient id="g2" gradientUnits="userSpaceOnUse" x1="430.26" y1="540.85" x2="417.28" y2="538.97"><stop offset="0" stop-color="#cacaca"/><stop offset="1" stop-color="#5a5a5a"/></linearGradient><linearGradient id="g3" gradientUnits="userSpaceOnUse" x1="417.28" y1="538.97" x2="413.51" y2="537.37"><stop offset="0" stop-color="#f4f4f4"/><stop offset="1" stop-color="#ffffff"/></linearGradient><linearGradient id="g4" gradientUnits="userSpaceOnUse" x1="413.51" y1="537.37" x2="403.14" y2="529.34"><stop offset="0" stop-color="#e0e0e0"/><stop offset="1" stop-color="#505050"/></linearGradient><linearGradient id="g5" gradientUnits="userSpaceOnUse" x1="403.14" y1="529.34" x2="400.32" y2="525.6"><stop offset="0" stop-color="#404040"/><stop offset="1" stop-color="#c0c0c0"/></linearGradient><linearGradient id="g6" gradientUnits="userSpaceOnUse" x1="400.32" y1="525.6" x2="399.11" y2="523.59"><stop offset="0" stop-color="#f0f0f0"/><stop offset="1" stop-color="#a0a0a0"/></linearGradient><linearGradient id="g7" gradientUnits="userSpaceOnUse" x1="399.11" y1="523.59" x2="398.05" y2="521.5"><stop offset="0" stop-color="#c8d0c0"/><stop offset="1" stop-color="#808080"/></linearGradient><linearGradient id="g8" gradientUnits="userSpaceOnUse" x1="398.05" y1="521.5" x2="397.13" y2="519.34"><stop offset="0" stop-color="#e8e8e8"/><stop offset="1" stop-color="#b0b0b0"/></linearGradient></defs>
<text x="120.2" y="434.9" text-anchor="middle" font-weight="bold" font-size="9.5" fill="#000">ATL4</text>
<text x="375.6" y="435.3" text-anchor="middle" font-weight="bold" font-size="9.5" fill="#000">ATL7</text>
<text x="65.6" y="451" text-anchor="middle" font-size="8.1" fill="#262626">pre-therapy</text>
<text x="171.3" y="451" text-anchor="middle" font-size="8.1" fill="#262626">post-therapy</text>
<text x="319.3" y="451" text-anchor="middle" font-size="8.1" fill="#262626">pre-therapy</text>
<text x="425" y="451" text-anchor="middle" font-size="8.1" fill="#262626">post-therapy</text>
<text x="68.5" y="567.8" text-anchor="middle" font-size="8.4" fill="#262626">OCI 0.944</text>
<text x="172.5" y="567.8" text-anchor="middle" font-size="8.4" fill="#262626">OCI 0.955</text>
<text x="324.3" y="567.8" text-anchor="middle" font-size="8.4" fill="#262626">OCI 0.973</text>
<text x="428.6" y="567.8" text-anchor="middle" font-size="8.4" fill="#262626">OCI 0.641</text>
<rect x="0" y="0" width="520" height="1.5" fill="#000"/><rect x="0" y="0" width="1.5" height="577" fill="#000"/><rect x="518" y="0" width="2" height="577" fill="#000"/><rect x="0" y="575" width="520" height="2" fill="#000"/>
</svg></body></html>
